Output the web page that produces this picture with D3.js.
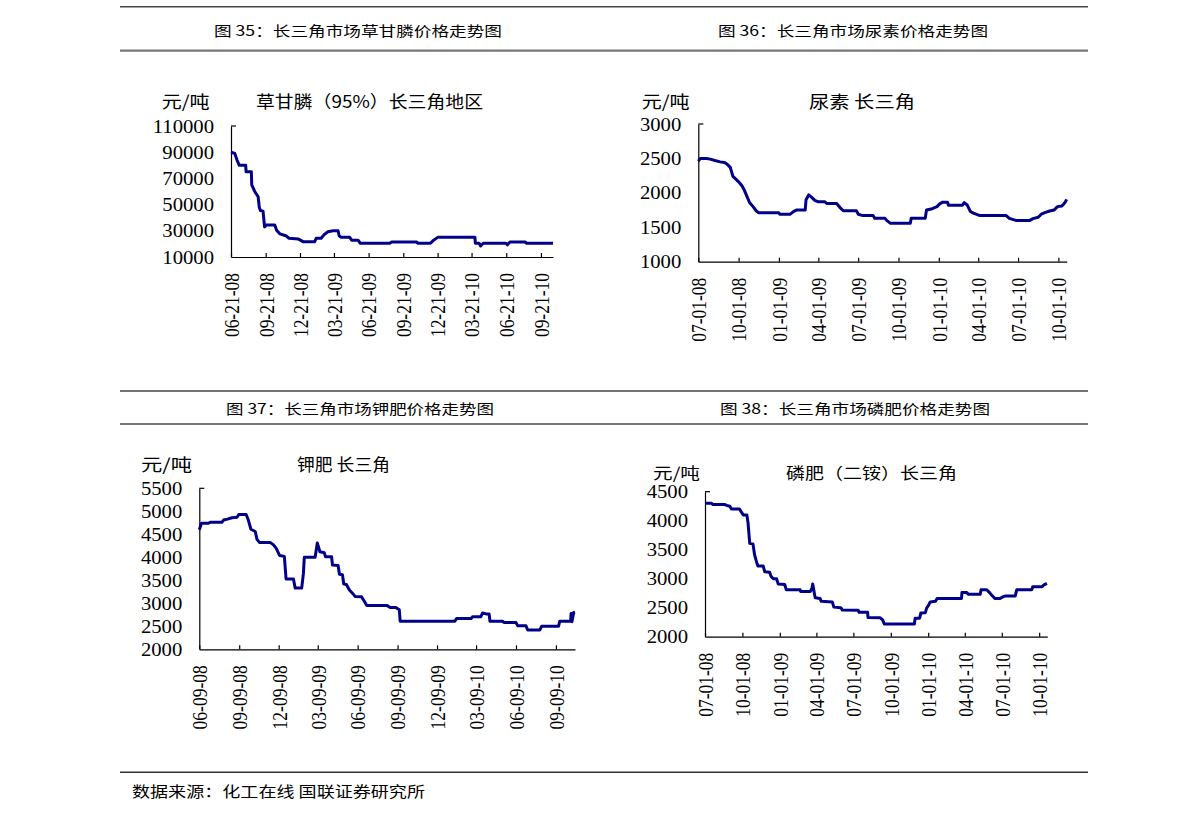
<!DOCTYPE html>
<html><head><meta charset="utf-8">
<script src="https://cdn.jsdelivr.net/npm/d3@7"></script>
<style>body{margin:0;background:#fff}</style>
</head><body><svg id="c" width="1191" height="818"></svg>
<script>
// ---------- DATA ----------
const headerTitles = ["图 35：长三角市场草甘膦价格走势图","图 36：长三角市场尿素价格走势图","图 37：长三角市场钾肥价格走势图","图 38：长三角市场磷肥价格走势图"];
const chartTitles = ["草甘膦（95%）长三角地区","尿素 长三角","钾肥 长三角","磷肥（二铵）长三角"];
const unitLabel = "元/吨";
const sourceText = "数据来源：化工在线 国联证券研究所";

// Glyphosate
const glyTicks = ["2008-06-21","2008-09-21","2008-12-21","2009-03-21","2009-06-21","2009-09-21","2009-12-21","2010-03-21","2010-06-21","2010-09-21"];
const glyYTicks = [10000,30000,50000,70000,90000,110000];
const glyDates = ["2008-06-21","2008-07-01","2008-07-07","2008-07-13","2008-07-30","2008-07-31","2008-08-14","2008-08-15","2008-08-23","2008-09-01","2008-09-04","2008-09-07","2008-09-14","2008-09-18","2008-09-23","2008-10-15","2008-10-20","2008-10-29","2008-11-15","2008-11-22","2008-12-16","2008-12-29","2009-01-29","2009-02-02","2009-02-15","2009-02-24","2009-03-05","2009-03-19","2009-04-01","2009-04-04","2009-04-10","2009-05-02","2009-05-07","2009-05-24","2009-05-30","2009-08-16","2009-08-21","2009-10-26","2009-10-30","2009-12-02","2009-12-09","2009-12-21","2010-03-30","2010-03-31","2010-04-10","2010-04-14","2010-04-21","2010-06-20","2010-06-24","2010-07-01","2010-08-10","2010-08-14","2010-10-23"];
const glyPrices = [90000,89000,84000,80000,80000,75000,75000,65000,60000,56000,48000,45500,45000,33000,34500,34500,30500,27600,26000,24300,23800,21700,21700,24300,24300,27300,29300,30000,30000,26000,25000,25000,22800,22800,20500,20500,21450,21450,20500,20500,22500,25000,25000,20500,20500,18400,20500,20500,19300,21450,21450,20500,20500];

// Urea
const ureaTicks = ["2008-07-01","2008-10-01","2009-01-01","2009-04-01","2009-07-01","2009-10-01","2010-01-01","2010-04-01","2010-07-01","2010-10-01"];
const ureaYTicks = [1000,1500,2000,2500,3000];
const ureaDates = ["2008-07-01","2008-07-06","2008-07-20","2008-07-28","2008-08-08","2008-08-20","2008-08-30","2008-09-04","2008-09-12","2008-09-18","2008-09-23","2008-10-01","2008-10-09","2008-10-14","2008-10-20","2008-10-26","2008-11-03","2008-11-10","2008-11-16","2009-01-01","2009-01-03","2009-01-27","2009-02-04","2009-02-10","2009-03-02","2009-03-04","2009-03-10","2009-03-17","2009-03-24","2009-04-01","2009-04-16","2009-04-20","2009-05-13","2009-05-20","2009-05-28","2009-06-27","2009-07-01","2009-07-12","2009-08-04","2009-08-08","2009-08-31","2009-09-04","2009-09-12","2009-10-28","2009-10-30","2009-12-01","2009-12-04","2009-12-17","2009-12-28","2010-01-03","2010-01-10","2010-01-21","2010-01-23","2010-02-24","2010-02-28","2010-03-07","2010-03-14","2010-03-21","2010-04-05","2010-05-12","2010-06-04","2010-06-11","2010-06-26","2010-07-28","2010-08-04","2010-08-16","2010-08-23","2010-08-31","2010-09-11","2010-09-21","2010-09-29","2010-10-09","2010-10-13","2010-10-17","2010-10-20"];
const ureaPrices = [2460,2500,2500,2490,2470,2450,2440,2420,2370,2240,2210,2160,2100,2040,1950,1860,1800,1740,1710,1710,1690,1690,1730,1750,1750,1900,1970,1935,1890,1870,1870,1845,1845,1790,1740,1740,1690,1670,1670,1630,1630,1600,1560,1560,1630,1630,1750,1770,1800,1840,1865,1865,1820,1820,1857,1823,1730,1705,1670,1670,1670,1630,1600,1600,1625,1645,1690,1712,1736,1750,1800,1810,1835,1870,1905];

// Potash
const potTicks = ["2008-06-09","2008-09-09","2008-12-09","2009-03-09","2009-06-09","2009-09-09","2009-12-09","2010-03-09","2010-06-09","2010-09-09"];
const potYTicks = [2000,2500,3000,3500,4000,4500,5000,5500];
const potDates = ["2008-06-09","2008-06-14","2008-06-30","2008-07-04","2008-07-31","2008-08-04","2008-08-13","2008-08-23","2008-09-04","2008-09-08","2008-09-25","2008-09-30","2008-10-06","2008-10-16","2008-10-20","2008-10-26","2008-11-20","2008-11-27","2008-12-03","2008-12-11","2008-12-22","2008-12-26","2009-01-12","2009-01-16","2009-01-31","2009-02-04","2009-02-06","2009-03-03","2009-03-08","2009-03-14","2009-03-24","2009-03-27","2009-04-10","2009-04-12","2009-04-25","2009-04-28","2009-05-05","2009-05-08","2009-05-14","2009-05-21","2009-05-28","2009-06-03","2009-06-18","2009-06-24","2009-06-30","2009-08-16","2009-08-23","2009-09-05","2009-09-13","2009-09-15","2010-01-19","2010-01-23","2010-02-26","2010-03-01","2010-03-20","2010-03-24","2010-04-01","2010-04-08","2010-04-10","2010-05-09","2010-05-13","2010-06-09","2010-06-13","2010-07-02","2010-07-06","2010-08-03","2010-08-07","2010-09-15","2010-09-18","2010-10-13","2010-10-14","2010-10-16","2010-10-20","2010-10-23"];
const potPrices = [4600,4740,4740,4760,4760,4810,4830,4860,4870,4930,4930,4810,4610,4560,4390,4320,4320,4270,4200,4040,4020,3530,3530,3330,3330,3650,4000,4000,4310,4120,4100,4010,4010,3830,3820,3630,3620,3420,3410,3290,3220,3150,3140,3050,2950,2950,2910,2910,2860,2610,2610,2670,2670,2710,2710,2790,2770,2770,2610,2610,2580,2580,2510,2510,2420,2420,2500,2500,2610,2610,2780,2600,2800,2810];

// Phosphate (DAP)
const phosTicks = ["2008-07-01","2008-10-01","2009-01-01","2009-04-01","2009-07-01","2009-10-01","2010-01-01","2010-04-01","2010-07-01","2010-10-01"];
const phosYTicks = [2000,2500,3000,3500,4000,4500];
const phosDates = ["2008-07-01","2008-07-17","2008-07-20","2008-08-19","2008-08-23","2008-08-31","2008-09-04","2008-09-24","2008-09-28","2008-10-03","2008-10-12","2008-10-15","2008-10-19","2008-10-27","2008-10-31","2008-11-06","2008-11-08","2008-11-21","2008-11-25","2008-12-07","2008-12-11","2008-12-16","2008-12-24","2008-12-28","2009-01-13","2009-01-17","2009-02-20","2009-02-21","2009-03-17","2009-03-21","2009-03-23","2009-03-27","2009-03-29","2009-04-10","2009-04-13","2009-05-10","2009-05-14","2009-05-31","2009-06-04","2009-07-13","2009-07-15","2009-08-05","2009-08-06","2009-09-05","2009-09-11","2009-09-15","2009-11-28","2009-11-30","2009-12-11","2009-12-14","2009-12-25","2009-12-28","2010-01-02","2010-01-06","2010-01-19","2010-01-23","2010-03-24","2010-03-25","2010-04-06","2010-04-10","2010-05-09","2010-05-11","2010-05-25","2010-06-01","2010-06-06","2010-06-14","2010-06-27","2010-07-05","2010-07-09","2010-08-03","2010-08-07","2010-09-13","2010-09-15","2010-10-08","2010-10-12","2010-10-20"];
const phosPrices = [4300,4300,4280,4280,4265,4250,4200,4200,4155,4100,4100,3955,3610,3600,3410,3260,3220,3220,3120,3110,3035,3000,3000,2910,2900,2810,2810,2780,2780,2830,2910,2750,2670,2660,2610,2600,2510,2500,2460,2455,2420,2420,2330,2325,2290,2220,2220,2320,2320,2410,2415,2490,2545,2600,2610,2660,2660,2760,2760,2730,2730,2810,2810,2760,2720,2660,2660,2690,2700,2700,2810,2810,2860,2860,2890,2920];

// ---------- DRAW ----------
const parse = d3.timeParse("%Y-%m-%d");
const fmt = d3.timeFormat("%m-%d-%y");
const CJK = "'Noto Sans CJK SC', sans-serif";
const SERIF = "'Liberation Serif', 'DejaVu Serif', serif";
const svg = d3.select("#c");
svg.append("rect").attr("width",1191).attr("height",818).attr("fill","#fff");

// horizontal rules
[[6.7,1.4,"#444"],[50.7,2.2,"#777"],[391,1.4,"#444"],[424,2.2,"#777"],[772.3,1.4,"#333"]].forEach(r=>{
  svg.append("line").attr("x1",120).attr("x2",1088).attr("y1",r[0]).attr("y2",r[0])
    .attr("stroke",r[2]).attr("stroke-width",r[1]);
});

function txt(str,x,y,len,size,family){
  return svg.append("text").attr("x",x).attr("y",y).text(str)
    .attr("font-family",family||CJK).attr("font-size",size)
    .attr("dominant-baseline","central").attr("fill","#000")
    .attr("textLength",len).attr("lengthAdjust","spacingAndGlyphs");
}
// header titles
txt(headerTitles[0],214,29.5,288,14);
txt(headerTitles[1],718,29.5,270,14);
txt(headerTitles[2],226,408,268,14);
txt(headerTitles[3],720,408,270,14);
txt(sourceText,132,790,293,15);

function drawPanel(p){
  const x = d3.scaleTime().domain(p.domain.map(parse)).range([p.x0,p.x1]);
  const y = d3.scaleLinear().domain(d3.extent(p.yTicks)).range([p.y0,p.y1]);
  const g = svg.append("g");
  const xa = g.append("g").attr("transform",`translate(0,${p.y0})`)
    .call(d3.axisBottom(x).tickValues(p.xTicks.map(parse)).tickFormat(fmt).tickSizeInner(-4).tickSizeOuter(0));
  xa.select(".domain").attr("stroke","#000").attr("stroke-width",1.2);
  xa.selectAll(".tick line").attr("stroke","#000").attr("stroke-width",1.2);
  xa.selectAll(".tick text").attr("x",0).attr("y",0).attr("dy","0.35em")
    .attr("text-anchor","end").attr("transform","translate(0,16) scale(1.2,1) rotate(-90)")
    .attr("font-family",SERIF).attr("font-size",17.5).attr("fill","#000");
  const ya = g.append("g").attr("transform",`translate(${p.x0},0)`)
    .call(d3.axisLeft(y).tickValues(p.yTicks).tickSize(0).tickPadding(17).tickFormat(d3.format("d")));
  ya.select(".domain").attr("stroke","#000").attr("stroke-width",1.2);
  ya.selectAll(".tick text").attr("x",0).attr("dy","0.34em")
    .attr("transform","translate(-17,0) scale(1.15,1)")
    .attr("font-family",SERIF).attr("font-size",18).attr("fill","#000");
  const top = d3.max(p.yTicks);
  g.append("line").attr("x1",p.x0).attr("x2",p.x0+5).attr("y1",y(top)).attr("y2",y(top))
    .attr("stroke","#000").attr("stroke-width",1.2);
  const pts = p.dates.map((d,i)=>[parse(d),p.values[i]]);
  g.append("path").datum(pts)
    .attr("d",d3.line().x(d=>x(d[0])).y(d=>y(d[1])))
    .attr("fill","none").attr("stroke","#000088").attr("stroke-width",3)
    .attr("stroke-linejoin","round");
  txt(unitLabel,p.ux,p.ty,p.uw,p.fs||17);
  txt(p.title,p.tx,p.ty,p.tw,p.fs||17);
}

drawPanel({domain:["2008-06-21","2010-10-23"],x0:231,x1:553,y0:257,y1:126,
  xTicks:glyTicks,yTicks:glyYTicks,dates:glyDates,values:glyPrices,
  title:chartTitles[0],ux:161.7,uw:48,tx:256,tw:227,ty:100});
drawPanel({domain:["2008-07-01","2010-10-20"],x0:698.3,x1:1066.7,y0:261.7,y1:124,
  xTicks:ureaTicks,yTicks:ureaYTicks,dates:ureaDates,values:ureaPrices,
  title:chartTitles[1],ux:641.7,uw:48,tx:809,tw:106,ty:100});
drawPanel({domain:["2008-06-09","2010-10-23"],x0:199.3,x1:575,y0:649.3,y1:488.3,
  xTicks:potTicks,yTicks:potYTicks,dates:potDates,values:potPrices,
  title:chartTitles[2],ux:141,uw:51,tx:297,tw:93,ty:463});
drawPanel({domain:["2008-07-01","2010-10-21"],x0:705,x1:1047.3,y0:636.7,y1:491.7,
  xTicks:phosTicks,yTicks:phosYTicks,dates:phosDates,values:phosPrices,
  title:chartTitles[3],ux:653,uw:47,tx:786,tw:171,ty:472,fs:16});
</script></body></html>
